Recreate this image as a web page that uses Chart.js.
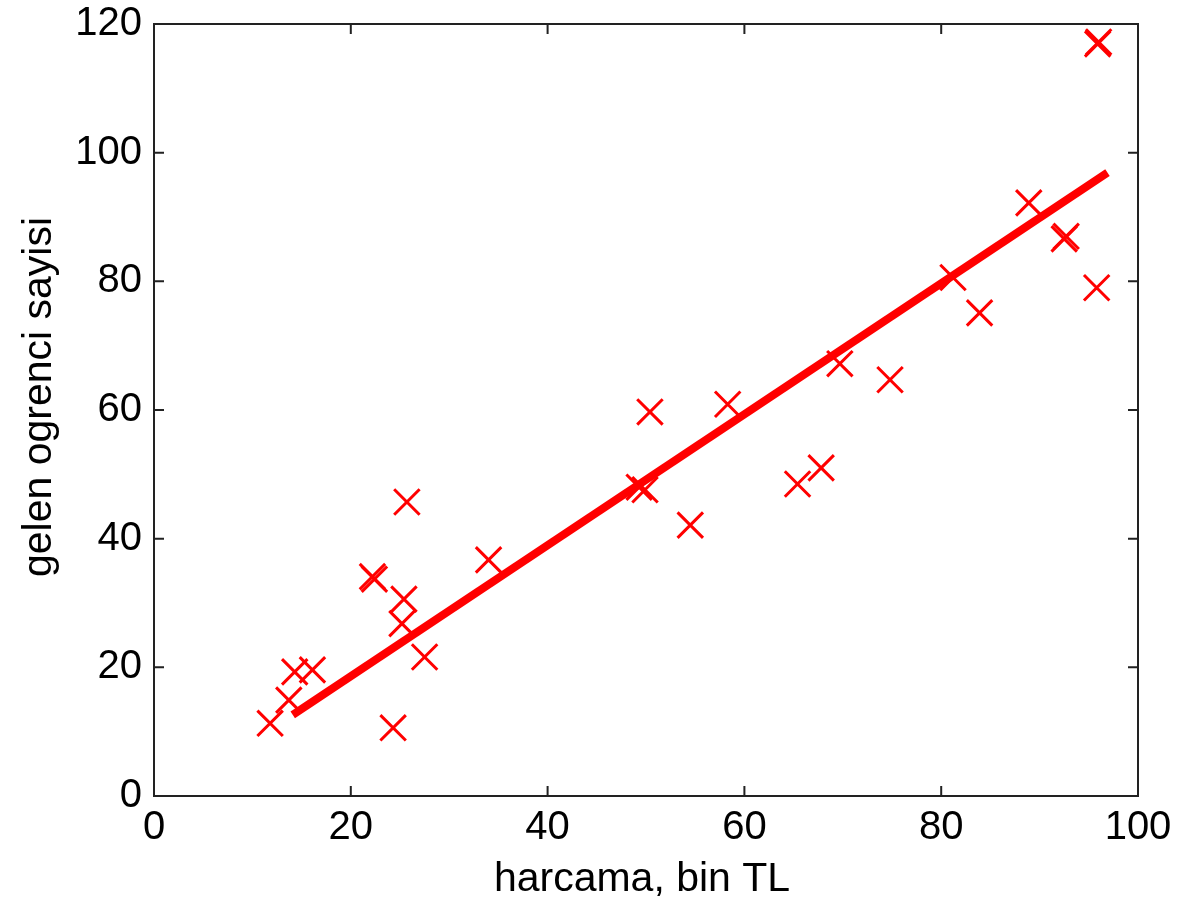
<!DOCTYPE html>
<html lang="tr">
<head>
<meta charset="UTF-8" />
<title>harcama - ogrenci</title>
<script src="https://cdn.jsdelivr.net/npm/chart.js"></script>
<style>
    body { margin: 0; background: #fff; }
    #wrap { width: 1182px; height: 903px; }
</style>
</head>
<body>
<div id="wrap"><canvas id="plot" width="1182" height="903"></canvas></div>
<script>
    // data points
    const harcama = [11.8, 13.7, 14.3, 16.1, 22.2, 22.4, 24.3, 25.2, 25.4, 25.7, 27.5, 34.0,
        49.3, 49.9, 50.4, 54.5, 58.3, 65.4, 67.8, 69.7, 74.8, 81.2, 83.9, 88.9, 92.5, 92.7, 95.8, 95.9, 96.0];
    const ogrenci = [11.3, 14.9, 19.3, 19.6, 34.1, 33.7, 10.6, 26.8, 30.6, 45.7, 21.6, 36.7,
        48.0, 47.6, 59.7, 42.1, 60.9, 48.5, 51.0, 67.2, 64.7, 80.6, 75.1, 92.2, 86.6, 87.0, 79.0, 116.9, 117.2];

    // fitted line end points
    const fitX = [14.1, 96.9];
    const fitY = [12.6, 96.9];

    const xTicks = [0, 20, 40, 60, 80, 100];
    const yTicks = [0, 20, 40, 60, 80, 100, 120];

    const xLabel = 'harcama, bin TL';
    const yLabel = 'gelen ogrenci sayisi';

    const fontFamily = '"Liberation Sans", Arial, sans-serif';

    // box around the plot, inward ticks, axis titles
    const framePlugin = {
        id: 'frame',
        afterDraw(chart) {
            const ctx = chart.ctx;
            const a = chart.chartArea;
            const xs = chart.scales.x, ys = chart.scales.y;
            ctx.save();
            ctx.strokeStyle = '#222';
            ctx.lineWidth = 2;
            ctx.strokeRect(a.left, a.top, a.right - a.left, a.bottom - a.top);
            ctx.beginPath();
            xTicks.forEach(v => {
                const px = xs.getPixelForValue(v);
                ctx.moveTo(px, a.bottom); ctx.lineTo(px, a.bottom - 10);
                ctx.moveTo(px, a.top); ctx.lineTo(px, a.top + 10);
            });
            yTicks.forEach(v => {
                const py = ys.getPixelForValue(v);
                ctx.moveTo(a.left, py); ctx.lineTo(a.left + 10, py);
                ctx.moveTo(a.right, py); ctx.lineTo(a.right - 10, py);
            });
            ctx.stroke();

            ctx.fillStyle = '#000';
            ctx.font = '41px ' + fontFamily;
            ctx.textAlign = 'center';
            ctx.textBaseline = 'alphabetic';
            ctx.fillText(xLabel, (a.left + a.right) / 2 - 4, 891);
            ctx.translate(51, 397);
            ctx.rotate(-Math.PI / 2);
            ctx.fillText(yLabel, 0, 0);
            ctx.restore();
        }
    };

    const points = harcama.map((x, i) => ({ x: x, y: ogrenci[i] }));
    const fit = fitX.map((x, i) => ({ x: x, y: fitY[i] }));

    new Chart(document.getElementById('plot'), {
        type: 'scatter',
        data: {
            datasets: [{
                label: 'veri',
                data: points,
                pointStyle: 'crossRot',
                pointRadius: 18,
                pointBorderWidth: 3,
                borderColor: '#ff0000',
                backgroundColor: '#ff0000'
            }, {
                type: 'line',
                label: 'fit',
                data: fit,
                borderColor: '#ff0000',
                borderWidth: 8,
                pointRadius: 0,
                fill: false,
                tension: 0
            }]
        },
        options: {
            responsive: false,
            animation: false,
            events: [],
            layout: { padding: { left: 0, right: 44, top: 24, bottom: 0 } },
            plugins: {
                legend: { display: false },
                tooltip: { enabled: false }
            },
            scales: {
                x: {
                    type: 'linear',
                    min: 0,
                    max: 100,
                    afterBuildTicks: s => { s.ticks = xTicks.map(v => ({ value: v })); },
                    afterFit: s => { s.height = 107; s.paddingLeft = 0; s.paddingRight = 0; },
                    grid: { display: false, drawTicks: false },
                    border: { display: false },
                    ticks: {
                        padding: 8,
                        color: '#000',
                        maxRotation: 0,
                        font: { family: fontFamily, size: 40 }
                    }
                },
                y: {
                    type: 'linear',
                    min: 0,
                    max: 120,
                    afterBuildTicks: s => { s.ticks = yTicks.map(v => ({ value: v })); },
                    afterFit: s => { s.width = 154; s.paddingTop = 0; s.paddingBottom = 0; },
                    grid: { display: false, drawTicks: false },
                    border: { display: false },
                    ticks: {
                        padding: 12,
                        color: '#000',
                        font: { family: fontFamily, size: 40 }
                    }
                }
            }
        },
        plugins: [framePlugin]
    });
</script>
</body>
</html>
